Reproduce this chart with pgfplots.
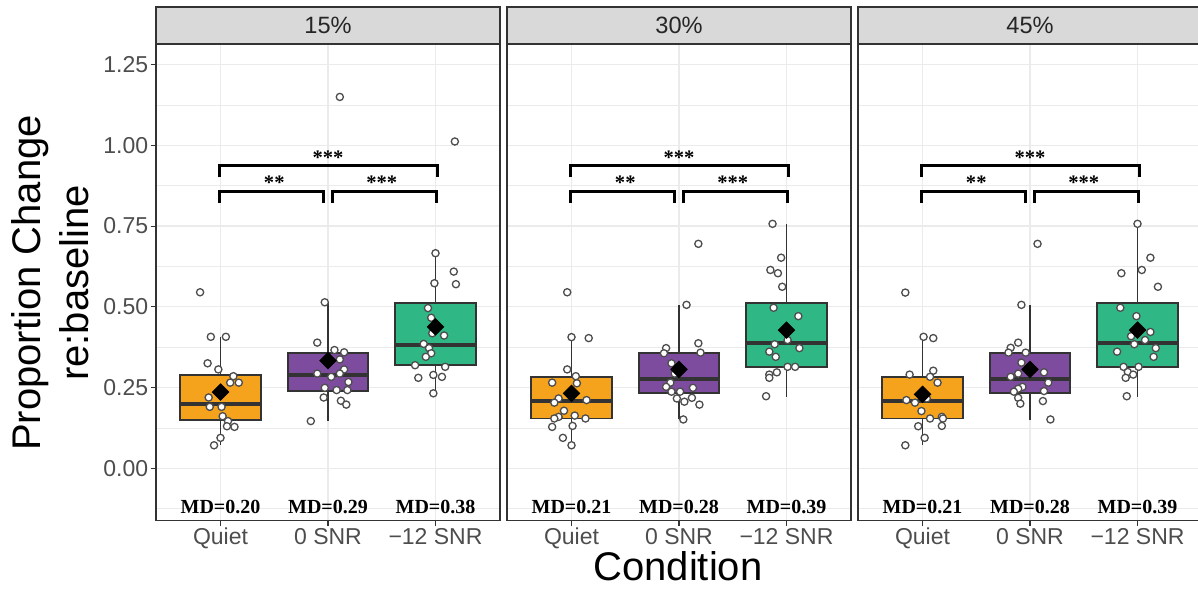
\documentclass[border=0pt]{standalone}
\usepackage{fontspec}
\setmainfont{Liberation Sans}
\newfontfamily\tnr{Liberation Serif}
\usepackage{pgfplots}
\pgfplotsset{compat=1.18}
\usepgfplotslibrary{statistics}
\definecolor{boxline}{HTML}{333333}
\definecolor{gridc}{HTML}{EBEBEB}
\definecolor{stripc}{HTML}{D9D9D9}
\definecolor{tickc}{HTML}{4D4D4D}
\definecolor{ptc}{HTML}{4D4D4D}
\definecolor{cQ}{HTML}{F5A31D}
\definecolor{cZ}{HTML}{7E4C9E}
\definecolor{cT}{HTML}{2FB886}
\pgfplotsset{
 panel/.style={
  scale only axis, width=172pt, height=238.25pt,
  anchor=south west,
  xmin=0.4, xmax=3.6, ymin=-0.162, ymax=1.314,
  xtick={1,2,3}, xticklabels={Quiet,0 SNR,−12 SNR},
  ytick={0,0.25,0.5,0.75,1,1.25},
  minor ytick={-0.125,0.125,0.375,0.625,0.875,1.125},
  grid=both,
  major grid style={draw=gridc, line width=0.6pt},
  minor grid style={draw=gridc, line width=0.35pt},
  minor tick length=0pt,
  tick align=outside, major tick length=2.7pt,
  tick style={draw=boxline, line width=0.55pt},
  tick pos=left,
  axis line style={draw=boxline, line width=0.75pt},
  ticklabel style={font=\fontsize{11.5}{13}\selectfont, text=tickc},
  /pgf/number format/assume math mode=true,
  yticklabel style={/pgf/number format/fixed, /pgf/number format/fixed zerofill, /pgf/number format/precision=2, inner sep=1pt},
  xticklabel style={inner sep=1pt},
  clip=false,
  boxplot/draw direction=y,
  boxplot/every median/.style={draw=boxline, line width=2pt},
  boxplot/every whisker/.style={draw=boxline, line width=0.65pt},
 },
 bx/.style={draw=boxline, line width=0.95pt, solid},
 pts/.style={only marks, mark=*, mark size=1.8pt, mark options={fill=white, draw=ptc, line width=0.65pt}},
 mn/.style={only marks, mark=square*, mark size=2.9pt, mark options={rotate=45, fill=black, draw=black}},
 brk/.style={black, line width=1.4pt, no marks},
}
\newcommand{\brackets}{%
  \addplot[brk] coordinates {(0.99,0.901) (0.99,0.9365) (3.02,0.9365) (3.02,0.901)};
  \addplot[brk] coordinates {(0.99,0.821) (0.99,0.857) (1.96,0.857) (1.96,0.821)};
  \addplot[brk] coordinates {(2.04,0.821) (2.04,0.857) (3.01,0.857) (3.01,0.821)};
  \node[font=\tnr\bfseries\fontsize{10.3}{12}\selectfont, anchor=base] at (axis cs:2,0.940) {***};
  \node[font=\tnr\bfseries\fontsize{10.3}{12}\selectfont, anchor=base] at (axis cs:1.5,0.862) {**};
  \node[font=\tnr\bfseries\fontsize{10.3}{12}\selectfont, anchor=base] at (axis cs:2.5,0.862) {***};
}
\newcommand{\md}[3]{%
  \node[font=\tnr\bfseries\fontsize{10}{12}\selectfont, anchor=base] at (axis cs:1,-0.139) {MD=#1};
  \node[font=\tnr\bfseries\fontsize{10}{12}\selectfont, anchor=base] at (axis cs:2,-0.139) {MD=#2};
  \node[font=\tnr\bfseries\fontsize{10}{12}\selectfont, anchor=base] at (axis cs:3,-0.139) {MD=#3};
}
\begin{document}
\begin{tikzpicture}
\path[use as bounding box, clip] (0,0) rectangle (599pt,295pt);
% ---------------- Panel 1 : 15%
\begin{axis}[panel, name=p1, at={(78pt,34.75pt)}]
\addplot[bx, fill=cQ, boxplot prepared={draw position=1, lower whisker=0.071, lower quartile=0.149, median=0.199, upper quartile=0.288, upper whisker=0.407, box extend=0.75, whisker extend=0}] coordinates {};
\addplot[bx, fill=cZ, boxplot prepared={draw position=2, lower whisker=0.146, lower quartile=0.240, median=0.290, upper quartile=0.358, upper whisker=0.514, box extend=0.75, whisker extend=0}] coordinates {};
\addplot[bx, fill=cT, boxplot prepared={draw position=3, lower whisker=0.232, lower quartile=0.319, median=0.382, upper quartile=0.513, upper whisker=0.666, box extend=0.75, whisker extend=0}] coordinates {};
\addplot[pts] coordinates {(0.81,0.545)(0.91,0.407)(1.05,0.407)(0.88,0.325)(0.98,0.306)(1.12,0.285)(1.09,0.265)(1.17,0.265)(0.89,0.219)(0.90,0.190)(1.01,0.190)(1.02,0.161)(1.07,0.146)(1.06,0.130)(1.13,0.128)(1.00,0.094)(0.94,0.071)};
\addplot[pts] coordinates {(2.11,1.150)(1.97,0.514)(1.90,0.389)(2.06,0.366)(2.15,0.359)(2.11,0.337)(2.15,0.306)(1.90,0.293)(2.11,0.293)(2.03,0.283)(2.19,0.267)(1.97,0.249)(2.08,0.242)(2.18,0.242)(1.96,0.219)(2.12,0.209)(2.17,0.197)(1.84,0.146)};
\addplot[pts] coordinates {(3.18,1.012)(3.00,0.666)(3.17,0.609)(3.19,0.570)(2.99,0.573)(2.93,0.496)(2.96,0.466)(2.97,0.418)(3.08,0.411)(2.89,0.385)(2.94,0.372)(2.96,0.356)(2.91,0.345)(2.81,0.319)(3.09,0.314)(2.84,0.280)(2.98,0.289)(3.06,0.283)(2.98,0.232)};
\addplot[mn] coordinates {(1,0.236)(2,0.333)(3,0.438)};
\brackets
\md{0.20}{0.29}{0.38}
\end{axis}
% ---------------- Panel 2 : 30%
\begin{axis}[panel, name=p2, at={(253.5pt,34.75pt)}, yticklabels={}, ytick style={draw=none}]
\addplot[bx, fill=cQ, boxplot prepared={draw position=1, lower whisker=0.071, lower quartile=0.154, median=0.208, upper quartile=0.283, upper whisker=0.406, box extend=0.75, whisker extend=0}] coordinates {};
\addplot[bx, fill=cZ, boxplot prepared={draw position=2, lower whisker=0.151, lower quartile=0.232, median=0.275, upper quartile=0.358, upper whisker=0.506, box extend=0.75, whisker extend=0}] coordinates {};
\addplot[bx, fill=cT, boxplot prepared={draw position=3, lower whisker=0.221, lower quartile=0.314, median=0.389, upper quartile=0.513, upper whisker=0.757, box extend=0.75, whisker extend=0}] coordinates {};
\addplot[pts] coordinates {(0.96,0.545)(1.00,0.406)(1.16,0.403)(0.96,0.306)(1.04,0.285)(0.82,0.265)(1.05,0.263)(0.88,0.216)(1.14,0.211)(0.84,0.203)(0.93,0.178)(1.03,0.163)(1.13,0.154)(0.88,0.159)(0.84,0.154)(1.01,0.131)(0.82,0.128)(0.92,0.094)(1.00,0.071)};
\addplot[pts] coordinates {(2.18,0.695)(2.07,0.506)(2.18,0.387)(1.88,0.372)(2.20,0.358)(1.86,0.356)(1.93,0.325)(1.96,0.293)(1.92,0.265)(1.88,0.252)(2.13,0.249)(1.93,0.237)(2.01,0.237)(1.98,0.216)(2.12,0.218)(2.05,0.206)(2.19,0.197)(2.04,0.151)};
\addplot[pts] coordinates {(2.87,0.757)(2.95,0.652)(2.85,0.614)(2.92,0.604)(2.96,0.562)(2.88,0.497)(3.11,0.471)(3.01,0.397)(2.89,0.384)(3.12,0.372)(2.84,0.361)(2.90,0.345)(3.01,0.314)(3.08,0.314)(2.91,0.297)(2.84,0.290)(2.84,0.280)(2.81,0.223)};
\addplot[mn] coordinates {(1,0.232)(2,0.306)(3,0.428)};
\brackets
\md{0.21}{0.28}{0.39}
\end{axis}
% ---------------- Panel 3 : 45%
\begin{axis}[panel, name=p3, at={(429pt,34.75pt)}, yticklabels={}, ytick style={draw=none}]
\addplot[bx, fill=cQ, boxplot prepared={draw position=1, lower whisker=0.071, lower quartile=0.154, median=0.208, upper quartile=0.283, upper whisker=0.407, box extend=0.75, whisker extend=0}] coordinates {};
\addplot[bx, fill=cZ, boxplot prepared={draw position=2, lower whisker=0.149, lower quartile=0.232, median=0.275, upper quartile=0.358, upper whisker=0.506, box extend=0.75, whisker extend=0}] coordinates {};
\addplot[bx, fill=cT, boxplot prepared={draw position=3, lower whisker=0.221, lower quartile=0.314, median=0.389, upper quartile=0.513, upper whisker=0.757, box extend=0.75, whisker extend=0}] coordinates {};
\addplot[pts] coordinates {(0.84,0.544)(1.01,0.407)(1.10,0.403)(1.10,0.302)(0.88,0.290)(1.07,0.283)(1.14,0.265)(1.04,0.216)(0.85,0.211)(0.93,0.203)(0.99,0.177)(1.07,0.154)(1.18,0.159)(1.19,0.154)(0.96,0.130)(1.18,0.131)(1.02,0.094)(0.84,0.071)};
\addplot[pts] coordinates {(2.07,0.695)(1.92,0.506)(1.89,0.389)(1.82,0.373)(1.80,0.358)(1.96,0.358)(1.92,0.327)(1.89,0.293)(2.13,0.297)(1.82,0.283)(2.17,0.265)(1.93,0.252)(1.89,0.246)(2.13,0.239)(1.85,0.237)(1.89,0.218)(2.12,0.208)(1.91,0.200)(2.19,0.151)};
\addplot[pts] coordinates {(3.00,0.757)(3.12,0.652)(3.04,0.614)(2.85,0.604)(3.19,0.562)(2.84,0.497)(2.99,0.471)(2.94,0.409)(3.12,0.422)(3.07,0.397)(2.97,0.384)(3.17,0.372)(2.81,0.361)(3.15,0.345)(2.87,0.314)(3.01,0.314)(2.91,0.298)(2.96,0.290)(2.89,0.280)(2.90,0.223)};
\addplot[mn] coordinates {(1,0.229)(2,0.306)(3,0.428)};
\brackets
\md{0.21}{0.28}{0.39}
\end{axis}
% ---------------- strips
\foreach \p/\t in {p1/15\%, p2/30\%, p3/45\%}{
  \draw[fill=stripc, draw=boxline, line width=0.75pt] (\p.north west) rectangle ([yshift=18.5pt]\p.north east);
  \node[font=\fontsize{11.8}{13}\selectfont, text=black!85, anchor=center] at ([yshift=9.25pt]\p.north) {\t};
}
% ---------------- axis titles
\node[rotate=90, align=center, font=\fontsize{20}{24}\selectfont] at (24.9pt,153.5pt) {Proportion Change\\re:baseline};
\node[font=\fontsize{20}{24}\selectfont, anchor=base, inner sep=0pt] at (339pt,4.6pt) {Condition};
\end{tikzpicture}
\end{document}
